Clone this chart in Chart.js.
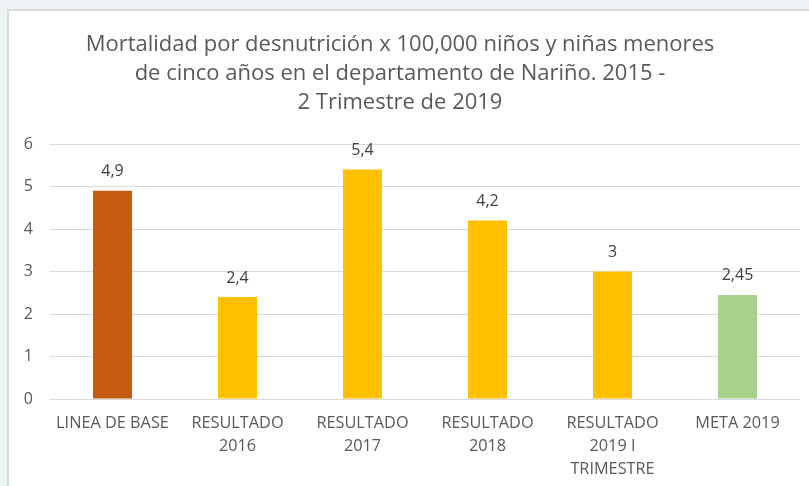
<!DOCTYPE html>
<html>
<head>
<meta charset="utf-8">
<script src="https://cdn.jsdelivr.net/npm/chart.js@4"></script>
<style>
  body { margin: 0; background: #eef3f5; overflow: hidden; }
  #marco { position: absolute; left: 7px; top: 9px; width: 820px; height: 500px; background: #fff; border: 2px solid #d9d9d9; }
  #cont { position: absolute; left: 0; top: 0; width: 809px; height: 486px; }
</style>
</head>
<body>
<div id="marco"></div>
<div id="cont"><canvas id="grafica-desnutricion"></canvas></div>
<script>
  // datos
  var categorias = [
    'LINEA DE BASE',
    ['RESULTADO', '2016'],
    ['RESULTADO', '2017'],
    ['RESULTADO', '2018'],
    ['RESULTADO', '2019 I', 'TRIMESTRE'],
    'META 2019'
  ];
  var valores = [4.9, 2.4, 5.4, 4.2, 3, 2.45];
  var colores = ['#C55A11', '#FFC000', '#FFC000', '#FFC000', '#FFC000', '#A9D18E'];
  var ticksY = [0, 1, 2, 3, 4, 5, 6];
  var titulo = [
    'Mortalidad por desnutrición x 100,000 niños y niñas menores',
    'de cinco años en el departamento de Nariño. 2015 -',
    '2 Trimestre de 2019'
  ];

  var fuente = "'Open Sans', sans-serif";

  // etiquetas encima de cada barra (con coma decimal)
  var etiquetasBarras = {
    id: 'etiquetasBarras',
    afterDatasetsDraw: function(chart) {
      var ctx = chart.ctx;
      var meta = chart.getDatasetMeta(0);
      ctx.save();
      ctx.font = '16px ' + fuente;
      ctx.fillStyle = '#404040';
      ctx.textAlign = 'center';
      ctx.textBaseline = 'middle';
      meta.data.forEach(function(barra, i) {
        var texto = String(valores[i]).replace('.', ',');
        ctx.fillText(texto, barra.x, barra.y - 19);
      });
      ctx.restore();
    }
  };

  var ctx = document.getElementById('grafica-desnutricion');
  var grafica = new Chart(ctx, {
    type: 'bar',
    data: {
      labels: categorias,
      datasets: [{
        data: valores,
        backgroundColor: colores,
        borderWidth: 0,
        categoryPercentage: 0.8,
        barPercentage: 0.39
      }]
    },
    plugins: [etiquetasBarras],
    options: {
      responsive: true,
      maintainAspectRatio: false,
      animation: false,
      layout: {
        padding: { left: 0, right: 9, top: 0, bottom: 0 }
      },
      plugins: {
        legend: { display: false },
        tooltip: { enabled: false },
        title: {
          display: true,
          text: titulo,
          color: '#595959',
          font: { family: fuente, size: 22, weight: 'normal', lineHeight: 1.32 },
          padding: { top: 30, bottom: 27 }
        }
      },
      scales: {
        y: {
          min: 0,
          max: 6,
          afterFit: function(escala) { escala.width = 50; },
          afterBuildTicks: function(escala) {
            escala.ticks = ticksY.map(function(v) { return { value: v }; });
          },
          border: { display: false },
          grid: { color: '#d9d9d9', drawTicks: false },
          ticks: {
            color: '#595959',
            padding: 17,
            font: { family: fuente, size: 16 }
          }
        },
        x: {
          // alto fijo para que el area del grafico termine en el mismo sitio
          afterFit: function(escala) { escala.height = 87; },
          border: { display: false },
          grid: { display: false, drawTicks: false },
          ticks: {
            color: '#595959',
            padding: 13,
            maxRotation: 0,
            autoSkip: false,
            font: { family: fuente, size: 16.3, lineHeight: 1.42 }
          }
        }
      }
    }
  });
</script>
</body>
</html>
